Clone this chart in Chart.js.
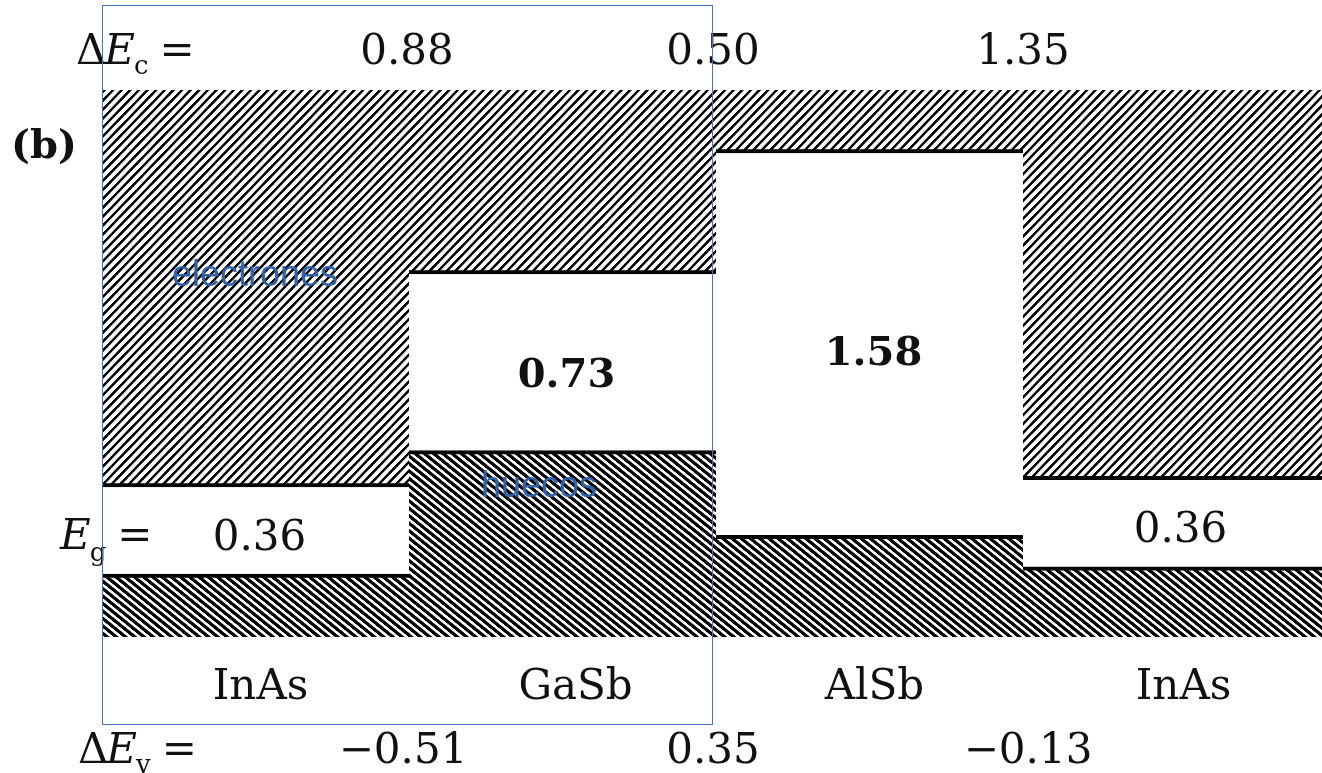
<!DOCTYPE html>
<html>
<head>
<meta charset="utf-8">
<script src="https://cdn.jsdelivr.net/npm/chart.js@4.4.1/dist/chart.umd.min.js"></script>
<style>
  html, body { margin: 0; padding: 0; background: #fff; overflow: hidden; }
  #wrap { position: relative; width: 1330px; height: 773px; }
</style>
</head>
<body>
<div id="wrap"><canvas id="c" width="1330" height="773"></canvas></div>
<script>
// ---- data (energies in eV, relative to left InAs valence-band edge) ----
const materials = ['InAs', 'GaSb', 'AlSb', 'InAs'];
const vbEdge    = [0.00, 0.51, 0.16, 0.03];
const cbEdge    = [0.36, 1.24, 1.74, 0.39];
const gapLabels = ['0.36', '0.73', '1.58', '0.36'];
const dEcLabels = ['0.88', '0.50', '1.35'];
const dEvLabels = ['\u22120.51', '0.35', '\u22120.13'];
const yMin = -0.26;
const yMax = 2.00;

function makeHatch(spacing, dark, angle) {
  const tile = document.createElement('canvas');
  tile.width = 12; tile.height = 12;
  const t = tile.getContext('2d');
  t.fillStyle = '#ffffff'; t.fillRect(0, 0, 12, 12);
  t.fillStyle = '#000000'; t.fillRect(0, 0, 12 * dark, 12);
  const p = document.getElementById('c').getContext('2d').createPattern(tile, 'repeat');
  p.setTransform(new DOMMatrix().rotate(angle).scale(spacing / 12));
  return p;
}
const cbHatch = makeHatch(6.2, 0.40, 44);
const vbHatch = makeHatch(5.8, 0.56, -51);

const SERIF = '"DejaVu Serif", "Liberation Serif", serif';

const labelPlugin = {
  id: 'labels',
  afterDraw(chart) {
    const ctx = chart.ctx;
    const xs = chart.scales.x, ys = chart.scales.y;
    const centers = materials.map((m, i) => xs.getPixelForValue(i));
    const bounds = [0, 1, 2].map(i => (centers[i] + centers[i + 1]) / 2);
    ctx.save();
    ctx.fillStyle = '#111';
    ctx.textAlign = 'center';
    ctx.textBaseline = 'alphabetic';

    ctx.font = '42px ' + SERIF;
    const decX = [-2, -3, 0];
    dEcLabels.forEach((s, i) => ctx.fillText(s, bounds[i] + decX[i], 64));
    const devX = [-6, -3, 5];
    dEvLabels.forEach((s, i) => ctx.fillText(s, bounds[i] + devX[i], 763));
    const matX = [5, 13, 5, 7];
    materials.forEach((s, i) => ctx.fillText(s, centers[i] + matX[i], 699));

    const gapDy = [19, 25, 21, 19];
    gapLabels.forEach((s, i) => {
      const mid = (ys.getPixelForValue(vbEdge[i]) + ys.getPixelForValue(cbEdge[i])) / 2;
      if (i === 0 || i === 3) ctx.font = '42px ' + SERIF; else ctx.font = 'bold 40px ' + SERIF;
      ctx.fillText(s, centers[i] + 4, mid + gapDy[i]);
    });

    ctx.textAlign = 'left';
    function rowLabel(x, base, prefix, sub, subDy) {
      let cx = x;
      if (prefix) {
        ctx.font = '42px ' + SERIF;
        ctx.fillText(prefix, cx, base); cx += ctx.measureText(prefix).width - 2;
      }
      ctx.font = 'italic 42px ' + SERIF;
      ctx.fillText('E', cx, base); cx += ctx.measureText('E').width;
      ctx.font = '26px ' + SERIF;
      ctx.fillText(sub, cx - 1, base + subDy); cx += ctx.measureText(sub).width + 10;
      ctx.font = '42px ' + SERIF;
      ctx.fillText('=', cx, base);
    }
    rowLabel(76, 64, '\u0394', 'c', 10);
    rowLabel(60, 549, '', 'g', 12);
    rowLabel(78, 763, '\u0394', 'v', 10);

    ctx.font = 'bold 40px ' + SERIF;
    ctx.fillText('(b)', 11, 158);

    ctx.fillStyle = '#2f62a8';
    ctx.textAlign = 'center';
    ctx.textBaseline = 'middle';
    ctx.font = '36px "Liberation Sans", Arial, sans-serif';
    ctx.fillText('electrones', 255, 276);
    ctx.fillText('huecos', 539, 487);

    ctx.strokeStyle = '#4472c4';
    ctx.lineWidth = 1;
    ctx.strokeRect(102.5, 5.5, 610, 719);
    ctx.restore();
  }
};

new Chart(document.getElementById('c'), {
  type: 'bar',
  data: {
    labels: materials,
    datasets: [
      {
        label: 'Banda de conducción',
        data: cbEdge.map(v => [v, yMax]),
        backgroundColor: cbHatch,
        borderColor: '#000',
        borderWidth: { top: 0, left: 0, right: 0, bottom: 4 },
        borderSkipped: false,
        grouped: false,
        barPercentage: 1, categoryPercentage: 1
      },
      {
        label: 'Banda de valencia',
        data: vbEdge.map(v => [yMin, v]),
        backgroundColor: vbHatch,
        borderColor: '#000',
        borderWidth: { top: 4, left: 0, right: 0, bottom: 0 },
        borderSkipped: false,
        grouped: false,
        barPercentage: 1, categoryPercentage: 1
      }
    ]
  },
  options: {
    responsive: false,
    animation: false,
    devicePixelRatio: 1,
    layout: { padding: { left: 102, top: 90, right: 0, bottom: 136 } },
    plugins: { legend: { display: false }, tooltip: { enabled: false } },
    scales: {
      x: { display: false },
      y: { display: false, min: yMin, max: yMax }
    }
  },
  plugins: [labelPlugin]
});
</script>
</body>
</html>
